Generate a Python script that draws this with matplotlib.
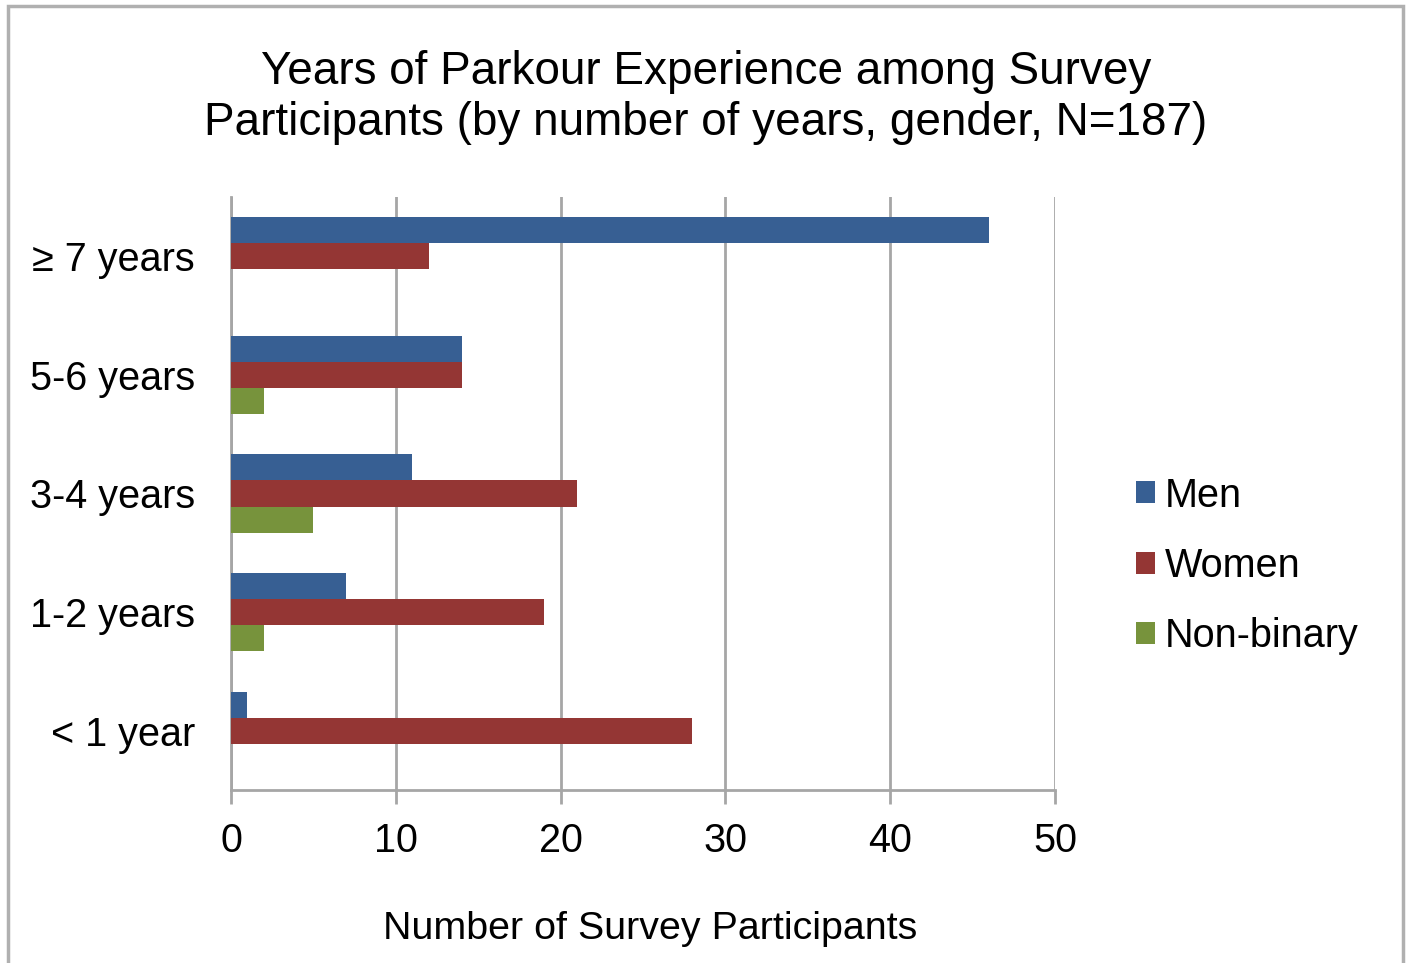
import numpy as np
import matplotlib.pyplot as plt
from matplotlib.patches import Rectangle

# datos
categorias = ["≥ 7 years", "5-6 years", "3-4 years", "1-2 years", "< 1 year"]
hombres = [46, 14, 11, 7, 1]
mujeres = [12, 14, 21, 19, 28]
no_binario = [0, 2, 5, 2, 0]
series = ["Men", "Women", "Non-binary"]
colores = ["#375F93", "#943634", "#77933C"]

plt.rcParams['font.family'] = ['Liberation Sans', 'DejaVu Sans']

fig = plt.figure(figsize=(14.06, 9.63), dpi=100)
ax = fig.add_axes([0.1643, 0.1797, 0.5861, 0.6157])

# posiciones de las categorias (de arriba a abajo)
y = np.arange(len(categorias))[::-1]
alto = 0.22
for i, (vals, nombre, c) in enumerate(zip([hombres, mujeres, no_binario], series, colores)):
    ax.barh(y + (1 - i) * alto, vals, height=alto, color=c, label=nombre, zorder=3)

ax.set_xlim(0, 50)
ax.set_ylim(-0.5, 4.5)
ax.set_xticks([0, 10, 20, 30, 40, 50])
ax.set_yticks(y)
ax.set_yticklabels(categorias)
ax.tick_params(axis='y', length=0, pad=26, labelsize=28.5)
ax.tick_params(axis='x', length=10, width=2, color="#A6A6A6", pad=13, labelsize=28.5)
ax.xaxis.grid(True, color="#A6A6A6", linewidth=2, zorder=0)

for s in ["top", "right"]:
    ax.spines[s].set_visible(False)
for s in ["left", "bottom"]:
    ax.spines[s].set_color("#A6A6A6")
    ax.spines[s].set_linewidth(2)

ax.set_xlabel("Number of Survey Participants", fontsize=28.4, labelpad=37)
ax.xaxis.label.set_x(0.508)

fig.text(0.5022, 0.899,
         "Years of Parkour Experience among Survey\nParticipants (by number of years, gender, N=187)",
         ha="center", va="center", fontsize=33, linespacing=1.2)

fig.legend(loc="center left", bbox_to_anchor=(1136 / 1406, 1 - 566 / 963),
           bbox_transform=fig.transFigure, frameon=False, borderpad=0,
           borderaxespad=0, fontsize=28.5, handlelength=0.48, handleheight=0.48,
           handletextpad=0.25, labelspacing=0.82)

# marco gris alrededor de la figura
fig.patches.append(Rectangle((8, -20), 1395, 963 - 6 + 20, transform=None,
                             fill=False, edgecolor="#B0B0B0", linewidth=2.5))

fig.savefig("out.png", dpi=100)
